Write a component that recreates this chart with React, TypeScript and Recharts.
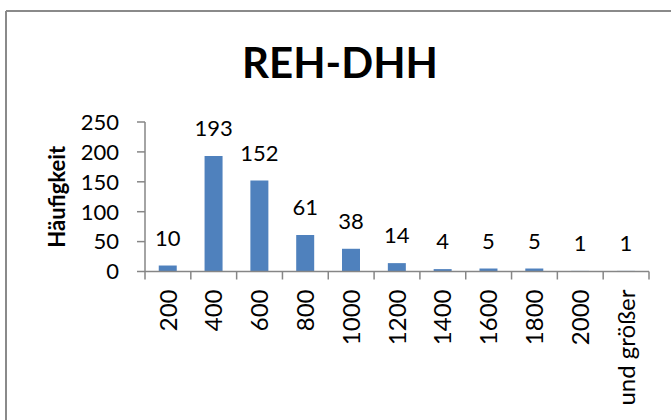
import React from 'react';
import { BarChart, Bar, XAxis, YAxis, LabelList } from 'recharts';

const categories = ['200', '400', '600', '800', '1000', '1200', '1400', '1600', '1800', '2000', 'und größer'];
const counts = [10, 193, 152, 61, 38, 14, 4, 5, 5, 1, 1];
const yTicks = [0, 50, 100, 150, 200, 250];

const data = categories.map((c, i) => ({ name: c, value: counts[i] }));

const FONT = 'Lato, "Open Sans", sans-serif';
const AXIS_COLOR = '#868686';

const XTick = (props: any) => {
  const { x, y, payload, index, visibleTicksCount, width } = props;
  const band = (width || 504) / (visibleTicksCount || categories.length);
  const axisY = y - 18;
  const left = x - band / 2;
  const right = x + band / 2;
  return (
    <g>
      <line x1={left} y1={axisY} x2={left} y2={axisY + 8} stroke={AXIS_COLOR} strokeWidth={1.5} />
      {index === (visibleTicksCount || categories.length) - 1 && (
        <line x1={right} y1={axisY} x2={right} y2={axisY + 8} stroke={AXIS_COLOR} strokeWidth={1.5} />
      )}
      <text
        x={x}
        y={y}
        transform={`rotate(-90, ${x}, ${y})`}
        textAnchor="end"
        dy="0.36em"
        fontFamily={FONT}
        fontSize={24}
        fill="#000"
      >
        {payload.value}
      </text>
    </g>
  );
};

export default function App() {
  return (
    <div style={{ position: 'absolute', left: 0, top: 0, width: 671, height: 420, overflow: 'hidden', background: '#fff' }}>
      <svg width={671} height={420} style={{ position: 'absolute', left: 0, top: 0 }}>
        <line x1={6} y1={11} x2={671} y2={11} stroke="#8a8a8a" strokeWidth={2} />
        <line x1={6} y1={11} x2={6} y2={420} stroke="#8a8a8a" strokeWidth={2} />
        <text x={340} y={78} textAnchor="middle" fontFamily={FONT} fontWeight="bold" fontSize={42} fill="#000">
          REH-DHH
        </text>
      </svg>
      <div style={{ position: 'absolute', left: 0, top: 0 }}>
        <BarChart
          width={671}
          height={420}
          data={data}
          margin={{ top: 122, right: 22, left: 0, bottom: 0 }}
          barCategoryGap="30%"
        >
          <XAxis
            dataKey="name"
            interval={0}
            height={148.5}
            tickSize={8}
            tickMargin={10}
            tickLine={false}
            axisLine={{ stroke: AXIS_COLOR, strokeWidth: 1.5 }}
            tick={<XTick />}
          />
          <YAxis
            width={145}
            domain={[0, 250]}
            ticks={yTicks}
            interval={0}
            tickSize={8}
            tickMargin={18}
            axisLine={{ stroke: AXIS_COLOR, strokeWidth: 1.5 }}
            tickLine={{ stroke: AXIS_COLOR, strokeWidth: 1.5 }}
            tick={{ fill: '#000', fontSize: 22, fontFamily: FONT }}
            label={{
              value: 'Häufigkeit',
              angle: -90,
              position: 'center',
              dx: -15,
              style: { fontFamily: FONT, fontWeight: 'bold', fontSize: 22, fill: '#000' },
            }}
          />
          <Bar dataKey="value" fill="#4F81BD" isAnimationActive={false}>
            <LabelList
              dataKey="value"
              position="top"
              offset={20}
              style={{ fontFamily: FONT, fontSize: 22, fill: '#000' }}
            />
          </Bar>
        </BarChart>
      </div>
    </div>
  );
}
